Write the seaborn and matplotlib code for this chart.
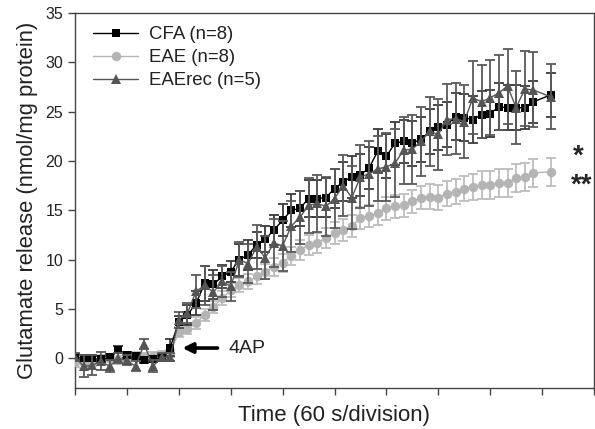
import matplotlib
matplotlib.use("Agg")
import matplotlib.pyplot as plt
import seaborn as sns

# ---- data (time in s, glutamate release nmol/mg protein) ----
time_s = list(range(0, 531, 10)) + [550]

cfa_mean = [0.1, 0.0, 0.0, -0.1, 0.1, 0.9, 0.3, 0.2, -0.2, -0.1, 0.1, 1.1,
            3.7, 4.4, 5.6, 7.6, 7.5, 8.3, 8.8, 10.0, 10.5, 11.5,
            12.1, 13.0, 14.0, 15.0, 15.2, 16.2, 16.2, 16.3, 17.2, 17.9,
            18.4, 18.6, 19.3, 21.0, 20.5, 21.8, 22.0, 21.8, 22.2, 23.0,
            23.4, 23.7, 24.5, 24.4, 24.2, 24.7, 24.8, 25.5, 25.4, 25.4,
            25.4, 26.0, 26.7]
cfa_err = [0.3, 0.3, 0.3, 0.3, 0.3, 0.4, 0.3, 0.3, 0.3, 0.3, 0.3, 0.9,
           0.6, 1.0, 1.2, 1.8, 1.5, 1.2, 1.1, 1.6, 1.5, 1.3,
           1.3, 1.5, 1.6, 1.7, 1.8, 1.9, 1.9, 2.0, 2.0, 2.0,
           2.1, 2.1, 2.1, 2.2, 2.2, 2.2, 2.2, 2.3, 2.3, 2.3,
           2.3, 2.3, 2.4, 2.4, 2.4, 2.4, 2.4, 2.4, 2.3, 2.3,
           2.2, 2.1, 2.2]

eae_mean = [-0.4, -0.5, -0.3, -0.1, 0.0, -0.2, 0.1, 0.2, 0.1, 0.2, 0.3, 0.5,
            2.7, 3.0, 3.6, 4.4, 5.2, 6.1, 6.9, 7.4, 7.8, 8.3,
            8.8, 9.3, 9.7, 10.4, 11.0, 11.5, 11.7, 12.2, 12.7, 13.0,
            13.4, 14.2, 14.4, 14.7, 15.2, 15.4, 15.5, 15.9, 16.3, 16.4,
            16.3, 16.7, 16.9, 17.2, 17.4, 17.6, 17.6, 17.8, 17.8, 18.3,
            18.4, 18.8, 18.9]
eae_err = [0.5, 0.5, 0.5, 0.4, 0.4, 0.4, 0.4, 0.4, 0.4, 0.4, 0.4, 0.4,
           0.5, 0.5, 0.6, 0.6, 0.6, 0.7, 0.7, 0.7, 0.8, 0.8,
           0.8, 0.9, 0.9, 0.9, 1.0, 1.0, 1.0, 1.0, 1.1, 1.1,
           1.1, 1.1, 1.1, 1.2, 1.2, 1.2, 1.2, 1.2, 1.2, 1.3,
           1.3, 1.3, 1.3, 1.3, 1.3, 1.4, 1.4, 1.4, 1.4, 1.4,
           1.4, 1.4, 1.4]

rec_mean = [0.15, -0.8, -0.7, -0.3, -0.8, 0.0, -0.2, -0.8, 1.45, -0.8, 0.1, 0.1,
            3.9, 4.6, 6.8, 7.4, 6.7, 7.8, 7.3, 10.0, 9.6, 11.3,
            10.2, 11.7, 11.4, 13.4, 14.3, 15.5, 15.7, 15.4, 16.2, 17.5,
            16.3, 18.4, 18.7, 19.2, 19.4, 19.8, 21.1, 21.2, 22.0, 23.0,
            22.7, 24.2, 24.3, 24.0, 26.4, 26.0, 26.4, 26.9, 27.6, 25.4,
            27.3, 27.2, 26.5]
rec_err = [0.4, 1.1, 1.0, 0.9, 0.6, 0.5, 0.5, 0.5, 0.5, 0.6, 0.4, 0.4,
           0.8, 1.0, 1.7, 2.0, 1.8, 1.6, 1.5, 1.8, 2.0, 2.2,
           2.2, 2.4, 2.5, 2.6, 2.7, 2.8, 2.9, 3.0, 3.0, 3.1,
           3.2, 3.2, 3.3, 3.3, 3.4, 3.4, 3.4, 3.5, 3.5, 3.5,
           3.6, 3.6, 3.6, 3.7, 3.7, 3.7, 3.8, 3.8, 3.8, 3.7,
           3.8, 3.8, 3.3]

labels = ["CFA (n=8)", "EAE (n=8)", "EAErec (n=5)"]
x_ticks = [0, 60, 120, 180, 240, 300, 360, 420, 480, 540, 600]
y_ticks = [0, 5, 10, 15, 20, 25, 30, 35]

# ---- style ----
sns.set_style("ticks")
plt.rcParams["font.family"] = ["Liberation Sans", "DejaVu Sans"]

fig = plt.figure(figsize=(5.95, 4.29), dpi=100)
ax = fig.add_axes([75 / 595, 1 - 388 / 429, 519 / 595, (388 - 13) / 429])

series = [
    # mean, err, label, marker colour, err colour, marker, size
    (eae_mean, eae_err, labels[1], "#b4b4b4", "#bdbdbd", "o", 6.8),
    (cfa_mean, cfa_err, labels[0], "#000000", "#3a3a3a", "s", 6.2),
    (rec_mean, rec_err, labels[2], "#555555", "#5a5a5a", "^", 7.4),
]
for z, (m, e, lab, c, ec, mk, ms) in enumerate(series):
    ax.errorbar(time_s, m, yerr=e, fmt="none", ecolor=ec, elinewidth=1.3,
                capsize=3.6, capthick=1.3, zorder=2 + 2 * z)
    sns.lineplot(x=time_s, y=m, ax=ax, color=c, marker=mk, markersize=ms,
                 markeredgewidth=0, linewidth=1.0, label=lab, zorder=3 + 2 * z)

ax.set_xlim(0, 600)
ax.set_ylim(-3, 35)
ax.set_xticks(x_ticks)
ax.set_xticklabels([])
ax.set_yticks(y_ticks)
ax.tick_params(axis="both", direction="out", length=5, width=1, color="#444444",
               labelsize=11.5, labelcolor="#222222")
for sp in ax.spines.values():
    sp.set_color("#444444")
    sp.set_linewidth(1.0)

ax.set_xlabel("Time (60 s/division)", fontsize=16, color="#222222", labelpad=4)
ax.set_ylabel("Glutamate release (nmol/mg protein)", fontsize=15.8, color="#222222",
              labelpad=5)

# legend in CFA, EAE, EAErec order
h, l = ax.get_legend_handles_labels()
order = [l.index(lab) for lab in labels]
ax.legend([h[i] for i in order], [l[i] for i in order], loc="upper left",
          frameon=False, fontsize=13.4, handlelength=2.4, handletextpad=0.6,
          labelspacing=0.33, borderaxespad=0.3, bbox_to_anchor=(0.01, 1.0),
          labelcolor="#222222")

# 4AP arrow
ax.annotate("", xy=(121, 1.05), xytext=(168, 1.05),
            arrowprops=dict(arrowstyle="-|>", lw=2.6, color="black",
                            mutation_scale=15))
ax.text(178, 1.05, "4AP", fontsize=14, va="center", ha="left", color="#222222")

# significance markers
ax.text(582, 20.4, "*", fontsize=20, fontweight="bold", ha="center", va="center")
ax.text(586, 17.5, "**", fontsize=20, fontweight="bold", ha="center", va="center")

fig.savefig("out.png", dpi=100)
